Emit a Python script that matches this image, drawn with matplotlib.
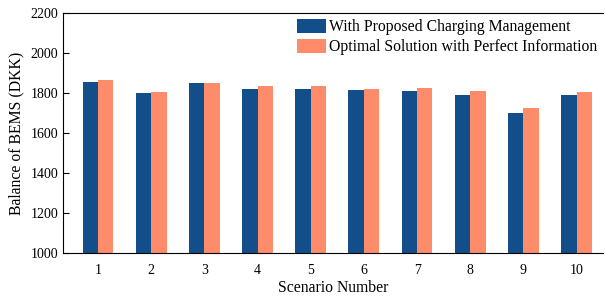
import matplotlib.pyplot as plt
import numpy as np

scenarios = [1, 2, 3, 4, 5, 6, 7, 8, 9, 10]
proposed = [1856, 1797, 1851, 1821, 1821, 1816, 1811, 1787, 1699, 1787]
optimal = [1862, 1806, 1851, 1836, 1836, 1821, 1826, 1811, 1724, 1802]

plt.rcParams['font.family'] = ['Liberation Serif', 'DejaVu Serif']
plt.rcParams['font.size'] = 10

fig = plt.figure(figsize=(6.05, 2.99), dpi=100)
ax = fig.add_axes([0.104, 0.154, 0.893, 0.803])

x = np.array(scenarios)
w = 0.29
ax.bar(x - w / 2, proposed, w, color='#114e8a', label='With Proposed Charging Management')
ax.bar(x + w / 2, optimal, w, color='#fe8b6a', label='Optimal Solution with Perfect Information')

ax.set_xlim(0.34, 10.5)
ax.set_ylim(1000, 2200)
ax.set_xticks(x)
ax.set_yticks(range(1000, 2201, 200))
ax.tick_params(axis='y', direction='in', length=4)
ax.tick_params(axis='x', length=0, pad=8)
ax.spines['right'].set_visible(False)
ax.set_xlabel('Scenario Number', fontsize=11.3, labelpad=2)
ax.set_ylabel('Balance of BEMS (DKK)', fontsize=11.3)
ax.legend(loc='upper right', frameon=False, fontsize=11.3, handlelength=1.8,
          handleheight=0.95, handletextpad=0.2, labelspacing=0.25,
          borderaxespad=0.2, borderpad=0.2)

plt.savefig('out.png', dpi=100)
